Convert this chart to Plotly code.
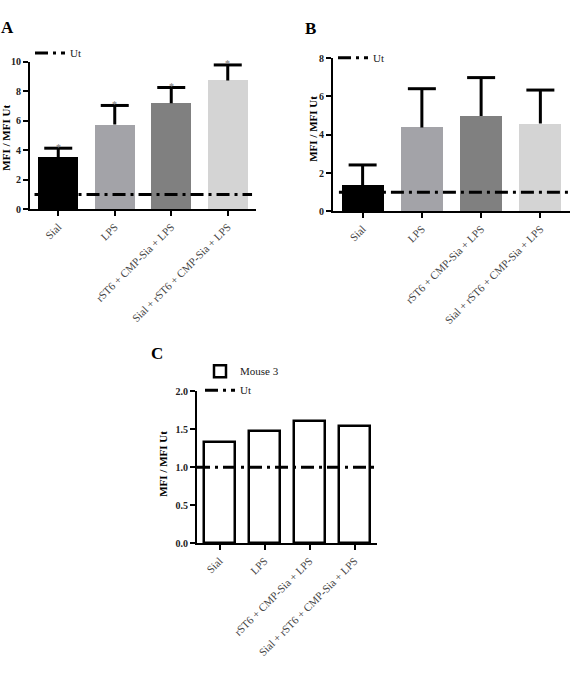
import plotly.graph_objects as go

W, H = 570, 680

categories = ["Sial", "LPS", "rST6 + CMP-Sia + LPS", "Sial + rST6 + CMP-Sia + LPS"]
# Panel A
a_values = [3.55, 5.75, 7.2, 8.75]
a_errors = [0.6, 1.3, 1.07, 1.05]
# Panel B
b_values = [1.35, 4.38, 4.98, 4.58]
b_errors = [1.07, 2.02, 2.0, 1.75]
# Panel C
c_values = [1.33, 1.47, 1.61, 1.54]
ut_value = 1.0

bar_colors = ["#000000", "#a3a3a8", "#808080", "#d4d4d4"]
SERIF = "Liberation Serif"
DASH = "13px,5px,3px,5px"


def px(x):
    return x / W


def py(y):
    return 1 - y / H


fig = go.Figure()
xs = list(range(len(categories)))


def add_errorbars(values, errors, xa, ya):
    sx, sy = [], []
    for i, (v, e) in enumerate(zip(values, errors)):
        sx += [i, i, None]
        sy += [v, v + e, None]
    fig.add_trace(go.Scatter(x=sx, y=sy, mode="lines", line=dict(color="black", width=3),
                             showlegend=False, xaxis=xa, yaxis=ya, hoverinfo="skip", cliponaxis=False))
    fig.add_trace(go.Scatter(x=xs, y=[v + e for v, e in zip(values, errors)], mode="markers",
                             marker=dict(symbol="line-ew", size=20, line=dict(color="black", width=3)),
                             showlegend=False, xaxis=xa, yaxis=ya, cliponaxis=False))


# ---------- Panel A ----------
fig.add_trace(go.Bar(x=xs, y=a_values, marker=dict(color=bar_colors, line=dict(width=0)),
                     width=0.71, showlegend=False, xaxis="x", yaxis="y"))
fig.add_trace(go.Scatter(x=[-0.42, 3.43], y=[ut_value, ut_value], mode="lines", name="Ut",
                         line=dict(color="black", width=3, dash=DASH),
                         xaxis="x", yaxis="y", legend="legend"))
add_errorbars(a_values, a_errors, "x", "y")
for i, (v, e) in enumerate(zip(a_values, a_errors)):
    fig.add_annotation(x=i, y=v + e, xref="x", yref="y", text="*", showarrow=False,
                       xanchor="center", yanchor="middle", yshift=1,
                       font=dict(family=SERIF, size=10, color="#777"))

# ---------- Panel B ----------
fig.add_trace(go.Bar(x=xs, y=b_values, marker=dict(color=bar_colors, line=dict(width=0)),
                     width=0.71, showlegend=False, xaxis="x2", yaxis="y2"))
fig.add_trace(go.Scatter(x=[-0.4, 3.55], y=[ut_value, ut_value], mode="lines", name="Ut",
                         line=dict(color="black", width=3, dash=DASH),
                         xaxis="x2", yaxis="y2", legend="legend2"))
add_errorbars(b_values, b_errors, "x2", "y2")

# ---------- Panel C ----------
fig.add_trace(go.Bar(x=xs, y=c_values, name="Mouse 3",
                     marker=dict(color="white", line=dict(color="black", width=2.5)),
                     width=0.69, xaxis="x3", yaxis="y3", legend="legend3"))
fig.add_trace(go.Scatter(x=[-0.5, 3.48], y=[ut_value, ut_value], mode="lines", name="Ut",
                         line=dict(color="black", width=3, dash=DASH),
                         xaxis="x3", yaxis="y3", legend="legend3"))

tickfont = dict(family=SERIF, size=11, color="#444")


def xaxis(dom, anchor):
    return dict(domain=dom, anchor=anchor, range=[-0.5, 3.5], tickvals=xs, ticktext=categories,
                tickangle=-45, showline=True, linecolor="black", linewidth=2,
                ticks="outside", ticklen=5, tickwidth=2, tickcolor="black",
                showgrid=False, zeroline=False, tickfont=tickfont, fixedrange=True)


def yaxis(dom, anchor, rng, dtick, fmt=None):
    d = dict(domain=dom, anchor=anchor, range=rng, dtick=dtick, showline=True, linecolor="black",
             linewidth=2, ticks="outside", ticklen=5, tickwidth=2, tickcolor="black",
             showgrid=False, zeroline=False,
             tickfont=dict(family=SERIF, size=10, color="#222", weight="bold"))
    if fmt:
        d["tickformat"] = fmt
    return d


legfont = dict(family=SERIF, size=11, color="#222")
fig.update_layout(
    width=W, height=H,
    margin=dict(l=0, r=0, t=0, b=0),
    paper_bgcolor="white", plot_bgcolor="white",
    bargap=0,
    xaxis=xaxis([px(30), px(256)], "y"),
    yaxis=yaxis([py(207), py(57)], "x", [0, 10], 2),
    xaxis2=xaxis([px(333), 1.0], "y2"),
    yaxis2=yaxis([py(209), py(53)], "x2", [0, 8], 2),
    xaxis3=xaxis([px(197), px(377)], "y3"),
    yaxis3=yaxis([py(547), py(392)], "x3", [0, 2], 0.5, ".1f"),
    legend=dict(x=px(30), y=py(33), xanchor="left", yanchor="top", bgcolor="rgba(0,0,0,0)",
                font=legfont, itemwidth=30),
    legend2=dict(x=px(333), y=py(38), xanchor="left", yanchor="top", bgcolor="rgba(0,0,0,0)",
                 font=legfont, itemwidth=30),
    legend3=dict(x=px(200), y=py(357), xanchor="left", yanchor="top", bgcolor="rgba(0,0,0,0)",
                 font=legfont, itemwidth=30, tracegroupgap=2),
    showlegend=True,
)

ann_font = dict(family=SERIF, size=11, color="black", weight="bold")
for xp, yp in [(6, 134), (313, 125), (163, 466)]:
    fig.add_annotation(x=px(xp), y=py(yp), xref="paper", yref="paper", text="MFI / MFI Ut",
                       textangle=-90, showarrow=False, font=ann_font,
                       xanchor="center", yanchor="middle")

for lab, xp, yp in [("A", 7, 22), ("B", 310, 23), ("C", 157, 354)]:
    fig.add_annotation(x=px(xp), y=py(yp), xref="paper", yref="paper", text=lab,
                       showarrow=False, xanchor="center", yanchor="middle",
                       font=dict(family=SERIF, size=17, color="black", weight="bold"))

fig.write_html("out.html")
